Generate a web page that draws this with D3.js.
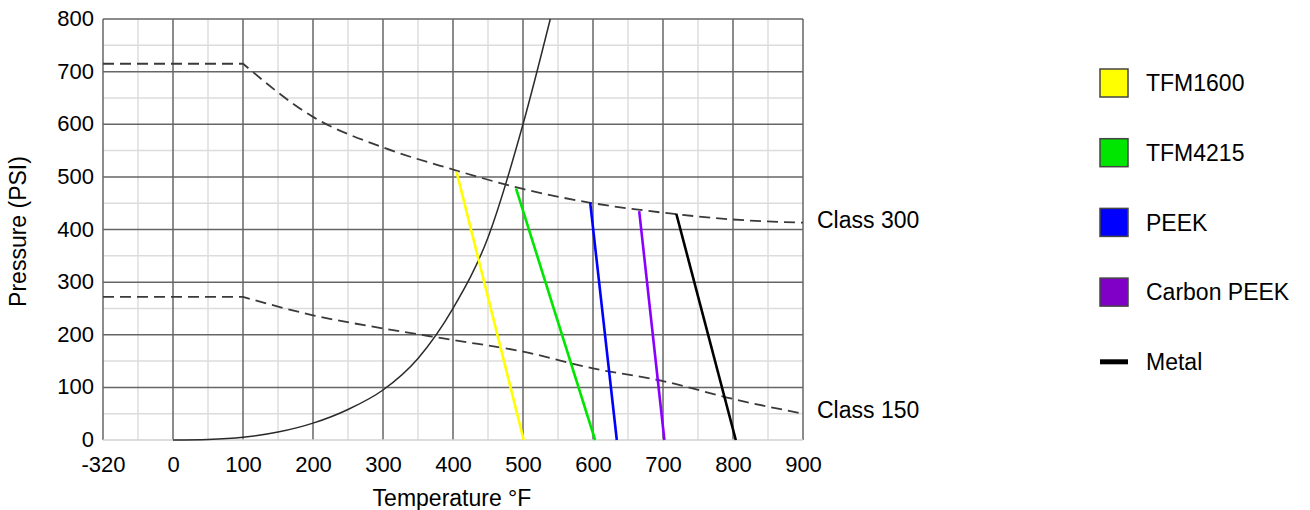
<!DOCTYPE html>
<html>
<head>
<meta charset="utf-8">
<script src="https://cdn.jsdelivr.net/npm/d3@7"></script>
<style>
  body { margin: 0; background: #fff; }
  text { font-family: "Liberation Sans", Arial, sans-serif; fill: #000; }
</style>
</head>
<body>
<div id="viz"></div>
<script>
// tick labels
const xTicks = [-320, 0, 100, 200, 300, 400, 500, 600, 700, 800, 900];
const yTicks = [0, 100, 200, 300, 400, 500, 600, 700, 800];

// pressure class limits (temperature °F, pressure PSI)
const class300 = [[-320, 715], [100, 715], [200, 614], [300, 556], [400, 514], [500, 477],
                  [600, 450], [700, 432], [800, 419], [900, 413]];
const class150 = [[-320, 272], [100, 272], [200, 237], [300, 212], [400, 190], [500, 168],
                  [600, 136], [700, 112], [800, 78], [900, 50]];

// steam saturation curve
const steam = [[0, 0], [50, 1], [100, 5], [150, 15], [200, 32], [250, 58], [300, 95],
               [350, 155], [400, 250], [450, 385], [500, 600], [539, 800]];

// seat materials
const materials = ["TFM1600", "TFM4215", "PEEK", "Carbon PEEK", "Metal"];
const matTop = [[405, 510], [490, 478], [596, 451], [666, 435], [719, 430]];
const matEnd = [501, 603, 634, 702, 804];
const lineColors = ["#ffff00", "#00e600", "#0000ff", "#8a00ff", "#000000"];
const legendColors = ["#ffff00", "#00e600", "#0000ff", "#8000c8", "#000000"];

const W = 1310, H = 510;
const margin = {top: 19, left: 103};
const plotW = 700, plotH = 421;
const fontSize = "22px";
const bigFont = "23px";

const svg = d3.select("#viz").append("svg")
  .attr("width", W)
  .attr("height", H);

// -320 sits one step left of 0, same spacing as the other ticks
const x = d3.scaleLinear()
  .domain([-320, 0, 900])
  .range([margin.left, margin.left + plotW / 10, margin.left + plotW]);
const y = d3.scaleLinear()
  .domain([0, 800])
  .range([margin.top + plotH, margin.top]);

// minor grid
const xMinor = [-160];
for (let t = 50; t < 900; t += 100) xMinor.push(t);
const yMinor = [];
for (let p = 50; p < 800; p += 100) yMinor.push(p);

const grid = svg.append("g");
grid.selectAll(".vminor").data(xMinor).join("line")
  .attr("x1", d => x(d)).attr("x2", d => x(d))
  .attr("y1", y(0)).attr("y2", y(800))
  .style("stroke", "#dcdcdc").style("stroke-width", 1.4);
grid.selectAll(".hminor").data(yMinor).join("line")
  .attr("y1", d => y(d)).attr("y2", d => y(d))
  .attr("x1", x(-320)).attr("x2", x(900))
  .style("stroke", "#dcdcdc").style("stroke-width", 1.4);

// major grid
grid.selectAll(".vmajor").data(xTicks).join("line")
  .attr("x1", d => x(d)).attr("x2", d => x(d))
  .attr("y1", y(0)).attr("y2", y(800))
  .style("stroke", "#666").style("stroke-width", 1.5);
grid.selectAll(".hmajor").data(yTicks.filter(d => d > 0)).join("line")
  .attr("y1", d => y(d)).attr("y2", d => y(d))
  .attr("x1", x(-320)).attr("x2", x(900))
  .style("stroke", "#666").style("stroke-width", 1.5);
grid.append("line")
  .attr("x1", x(-320)).attr("x2", x(900))
  .attr("y1", y(0)).attr("y2", y(0))
  .style("stroke", "#d0d0d0").style("stroke-width", 1.4);

// axes labels (no domain, no tick marks)
const xAxis = svg.append("g")
  .attr("transform", `translate(0,${y(0)})`)
  .call(d3.axisBottom(x).tickValues(xTicks).tickSize(0).tickPadding(16).tickFormat(d3.format("d")));
const yAxis = svg.append("g")
  .attr("transform", `translate(${x(-320)},0)`)
  .call(d3.axisLeft(y).tickValues(yTicks).tickSize(0).tickPadding(9).tickFormat(d3.format("d")));
[xAxis, yAxis].forEach(a => {
  a.select(".domain").remove();
  a.selectAll("text")
    .style("font-family", "'Liberation Sans', Arial, sans-serif")
    .style("font-size", fontSize)
    .style("fill", "#000");
});
xAxis.selectAll("text").text(d => d < 0 ? "-" + Math.abs(d) : d);
yAxis.selectAll("text").attr("dy", "0.3em");

svg.append("text")
  .attr("x", 452).attr("y", 506)
  .attr("text-anchor", "middle")
  .style("font-size", bigFont)
  .text("Temperature °F");
svg.append("text")
  .attr("transform", `translate(26,${y(400) + 2}) rotate(-90)`)
  .attr("text-anchor", "middle")
  .style("font-size", bigFont)
  .text("Pressure (PSI)");

// steam curve
const smooth = d3.line().x(d => x(d[0])).y(d => y(d[1])).curve(d3.curveMonotoneX);
svg.append("path")
  .datum(steam)
  .attr("d", smooth)
  .style("fill", "none")
  .style("stroke", "#2a2a2a")
  .style("stroke-width", 1.5);

// class limits: flat to 100 °F, then a smooth fall
const flat = d3.line().x(d => x(d[0])).y(d => y(d[1]));
[class300, class150].forEach(c => {
  svg.append("path")
    .attr("d", flat(c.slice(0, 2)) + smooth(c.slice(1)).replace(/^M/, "L"))
    .style("fill", "none")
    .style("stroke", "#3a3a3a")
    .style("stroke-width", 1.8)
    .style("stroke-dasharray", "11,6");
});
svg.append("text")
  .attr("x", x(900) + 14).attr("y", y(class300[class300.length - 1][1]) + 5)
  .style("font-size", bigFont).text("Class 300");
svg.append("text")
  .attr("x", x(900) + 14).attr("y", y(class150[class150.length - 1][1]) + 4)
  .style("font-size", bigFont).text("Class 150");

// material lines
materials.forEach((m, i) => {
  svg.append("line")
    .attr("x1", x(matTop[i][0])).attr("y1", y(matTop[i][1]))
    .attr("x2", x(matEnd[i])).attr("y2", y(0))
    .style("stroke", lineColors[i])
    .style("stroke-width", 2.6);
});

// legend
const legend = svg.append("g").attr("transform", "translate(1099,83)");
materials.forEach((m, i) => {
  const g = legend.append("g").attr("transform", `translate(0,${i * 69.7})`);
  if (m === "Metal") {
    g.append("rect")
      .attr("x", 1).attr("y", -2.5)
      .attr("width", 28).attr("height", 5)
      .style("fill", "#000");
  } else {
    g.append("rect")
      .attr("x", 1).attr("y", -14)
      .attr("width", 28).attr("height", 28)
      .style("fill", legendColors[i])
      .style("stroke", "#444")
      .style("stroke-width", 1.5);
  }
  g.append("text")
    .attr("x", 47).attr("y", 0)
    .attr("dy", "0.36em")
    .style("font-size", bigFont)
    .text(m);
});
</script>
</body>
</html>
